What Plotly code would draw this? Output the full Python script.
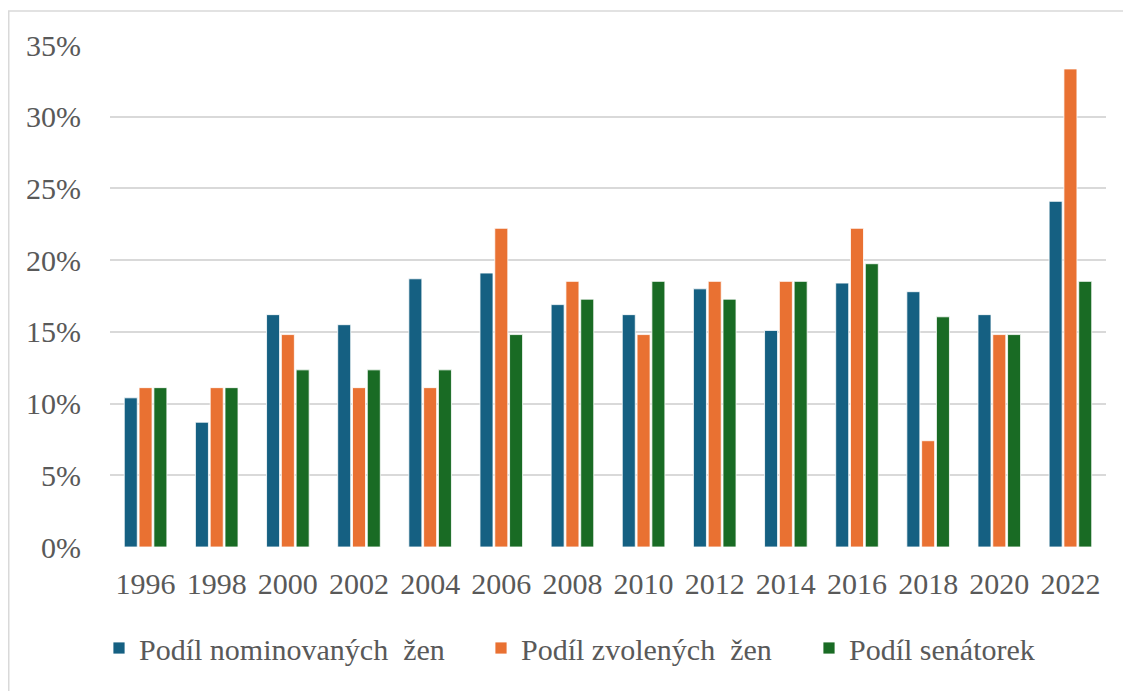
import plotly.graph_objects as go

years = ["1996", "1998", "2000", "2002", "2004", "2006", "2008",
         "2010", "2012", "2014", "2016", "2018", "2020", "2022"]
nominated = [0.104, 0.087, 0.162, 0.155, 0.187, 0.191, 0.169,
             0.162, 0.180, 0.151, 0.184, 0.178, 0.162, 0.241]
elected = [0.1111, 0.1111, 0.1481, 0.1111, 0.1111, 0.2222, 0.1852,
           0.1481, 0.1852, 0.1852, 0.2222, 0.0741, 0.1481, 0.3333]
senators = [0.1111, 0.1111, 0.1235, 0.1235, 0.1235, 0.1481, 0.1728,
            0.1852, 0.1728, 0.1852, 0.1975, 0.1605, 0.1481, 0.1852]
series_names = ["Podíl nominovaných  žen", "Podíl zvolených  žen", "Podíl senátorek"]
colors = ["#156082", "#E97132", "#196B24"]
yticks = [0, 0.05, 0.10, 0.15, 0.20, 0.25, 0.30, 0.35]
ytick_labels = ["0%", "5%", "10%", "15%", "20%", "25%", "30%", "35%"]

# page body has an 8px margin; figure sized to fit the visible window
OFF = 8
W, H = 1131 - OFF, 691 - OFF
L, R, T, B = 110 - OFF, 25, 45 - OFF, 144
pw, ph = W - L - R, H - T - B

def px_x(x):  # page pixel -> paper x
    return (x - OFF - L) / pw

def px_y(y):  # page pixel -> paper y
    return (H - B - (y - OFF)) / ph

FONT = "Liberation Serif"
FS = 30
TXT = "#595959"

fig = go.Figure()
legend_ids = ["legend", "legend2", "legend3"]
for name, vals, col, lg in zip(series_names, [nominated, elected, senators], colors, legend_ids):
    fig.add_trace(go.Bar(
        x=years, y=vals, name=name, legend=lg,
        marker=dict(color=col, line=dict(color="rgba(255,255,255,0.8)", width=1)),
    ))

legend_left = [99, 481, 809]
layout_legends = {}
for lg, lx in zip(legend_ids, legend_left):
    layout_legends[lg] = dict(
        x=px_x(lx), y=px_y(648), orientation="h", yanchor="middle", xanchor="left",
        font=dict(family=FONT, size=FS, color=TXT),
        bgcolor="rgba(0,0,0,0)", borderwidth=0,
    )

fig.update_layout(
    width=W, height=H,
    margin=dict(l=L, r=R, t=T, b=B, autoexpand=False),
    plot_bgcolor="white", paper_bgcolor="white",
    barmode="group", bargap=0.376, bargroupgap=0.12,
    showlegend=True,
    font=dict(family=FONT, size=FS, color=TXT),
    xaxis=dict(
        type="category", showgrid=False, showline=False, zeroline=False,
        tickfont=dict(family=FONT, size=FS, color=TXT), ticks="",
        ticklabelstandoff=16,
    ),
    yaxis=dict(
        range=[0, 0.35], tickvals=yticks, ticktext=ytick_labels,
        showgrid=True, gridcolor="#d9d9d9", gridwidth=1.5,
        zeroline=False, showline=False, ticks="",
        ticklabelstandoff=28,
        tickfont=dict(family=FONT, size=FS, color=TXT),
    ),
    shapes=[dict(
        type="rect", xref="paper", yref="paper",
        x0=px_x(8.75), x1=px_x(1145), y0=px_y(705), y1=px_y(11),
        line=dict(color="#d9d9d9", width=1.5), fillcolor="rgba(0,0,0,0)",
        layer="below",
    )],
    **layout_legends,
)

fig.write_html("out.html")
